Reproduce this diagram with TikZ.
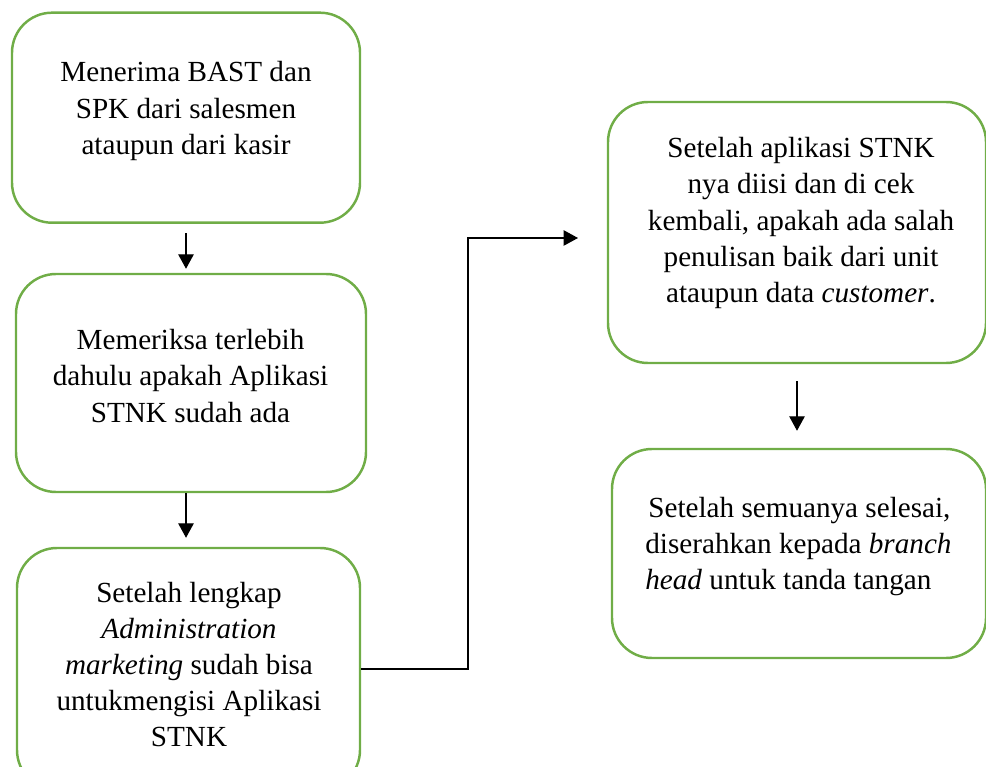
\documentclass[tikz,border=0pt]{standalone}
\usepackage{fontspec}
\setmainfont{Liberation Serif}
\usepackage{xcolor}
\definecolor{cBorder}{HTML}{70AD47}
\usepackage{tikz}
\usetikzlibrary{positioning, arrows.meta}

\begin{document}
\begin{tikzpicture}[
    box/.style={draw=cBorder, line width=1.4pt, rounded corners=0.8cm,
                inner sep=0pt},
    txt/.style={align=center, inner sep=0pt,
                font=\fontsize{16.6}{20.5}\selectfont},
    arr/.style={-{Triangle[length=2.9mm, width=3.1mm]}, line width=0.7pt}
]
\useasboundingbox (0,0) rectangle (19.72,-15.34);

\node[box, minimum width=6.96cm, minimum height=4.2cm] (terima) at (3.72,-2.354) {};
\node[box, minimum width=7.0cm, minimum height=4.36cm] (periksa) at (3.82,-7.66) {};
\node[box, minimum width=6.86cm, minimum height=4.84cm] (lengkap) at (3.77,-13.38) {};
\node[box, minimum width=7.56cm, minimum height=5.22cm] (cek) at (15.94,-4.65) {};
\node[box, minimum width=7.48cm, minimum height=4.18cm] (selesai) at (15.98,-11.07) {};

\node[txt] (terimaT) at (3.72,-2.22) {Menerima BAST dan\\SPK dari salesmen\\ataupun dari kasir};
\node[txt] (periksaT) at (3.81,-7.52) {Memeriksa terlebih\\dahulu apakah Aplikasi\\STNK sudah ada};
\node[txt] (lengkapT) at (3.78,-13.29) {Setelah lengkap\\\textit{Administration}\\\textit{marketing} sudah bisa\\untukmengisi Aplikasi\\STNK};
\node[txt] (cekT) at (16.02,-4.46) {Setelah aplikasi STNK\\nya diisi dan di cek\\kembali, apakah ada salah\\penulisan baik dari unit\\ataupun data \textit{customer}.};
\node[txt, align=left, anchor=west] (selesaiT) at (12.9,-10.93) {\hspace{0.06cm}Setelah semuanya selesai,\\diserahkan kepada \textit{branch}\\\textit{head} untuk tanda tangan};

\coordinate (belok) at (9.36,-4.76);
\coordinate (masuk) at (11.56,-4.76);

\draw[arr, shorten <=0.19cm, shorten >=0.08cm] (terima.south) -- (terima.south |- periksa.north);
\draw[arr, shorten >=0.18cm] (periksa.south -| terima.south) -- (lengkap.north -| terima.south);
\draw[arr] (lengkap.east) -| (belok) -- (masuk);
\draw[arr, shorten <=0.34cm, shorten >=0.34cm] (cek.south) -- (cek.south |- selesai.north);
\end{tikzpicture}
\end{document}
